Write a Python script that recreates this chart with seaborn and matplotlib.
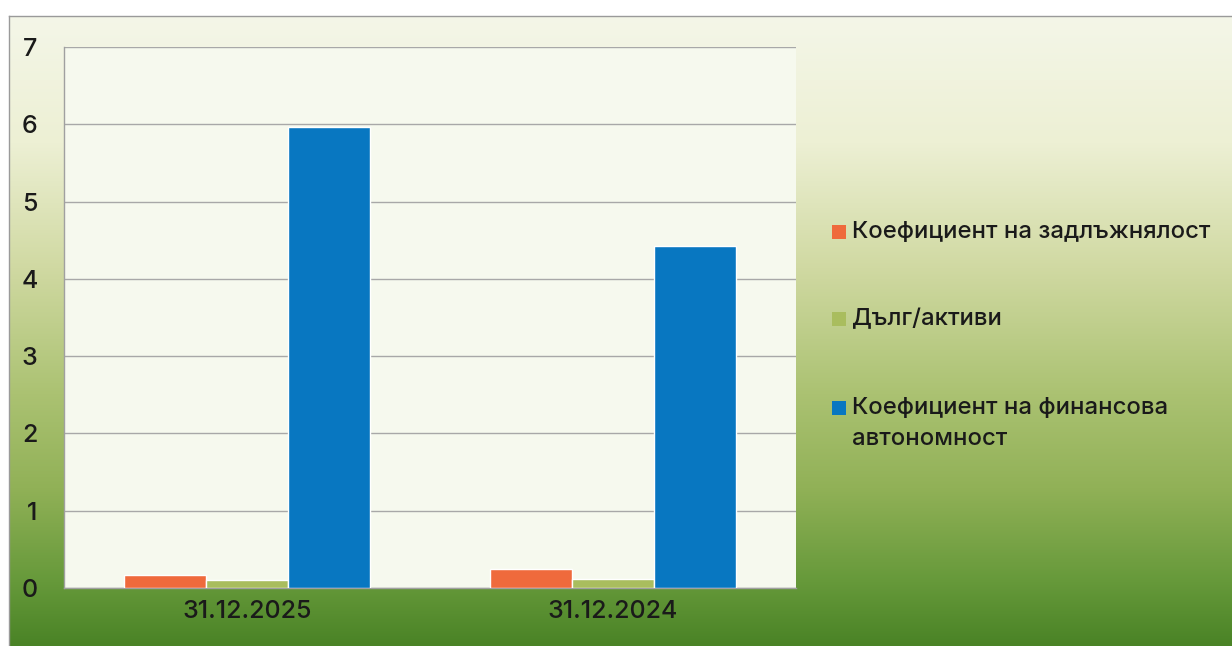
import numpy as np
import pandas as pd
import matplotlib
matplotlib.use("Agg")
import matplotlib.pyplot as plt
from matplotlib.colors import LinearSegmentedColormap
from matplotlib.patches import Rectangle
import seaborn as sns

# Reporting dates and the three financial ratios
dates = ["31.12.2025", "31.12.2024"]
debt_ratio = [0.17, 0.24]
debt_to_assets = [0.10, 0.12]
autonomy_ratio = [5.96, 4.43]

series_names = [
    "Коефициент на задлъжнялост",
    "Дълг/активи",
    "Коефициент на финансова\nавтономност",
]
series_colors = ["#ef6a3c", "#a9bd5e", "#0877c1"]
y_ticks = [0, 1, 2, 3, 4, 5, 6, 7]

df = pd.DataFrame({
    "date": dates * 3,
    "series": [series_names[0]] * 2 + [series_names[1]] * 2 + [series_names[2]] * 2,
    "value": debt_ratio + debt_to_assets + autonomy_ratio,
})

sns.set_theme(style="white")
plt.rcParams["font.family"] = ["Inter", "DejaVu Sans"]
plt.rcParams["font.weight"] = 500
TEXT_COLOR = "#1a1a1a"
FS_TICK = 18
FS_LEGEND = 17.2

W, H = 1232, 646
fig = plt.figure(figsize=(W / 100, H / 100), dpi=100, facecolor="white")

# Gradient backdrop of the chart frame (cream at the top, deep green at the bottom)
bg = fig.add_axes([9 / W, 0, 1 - 9 / W, 1 - 16 / H], zorder=0)
grad_cmap = LinearSegmentedColormap.from_list(
    "frame",
    [(0.0, "#f4f6e8"), (0.2, "#edf0d4"), (0.4, "#d0d9a2"), (0.6, "#abc272"),
     (0.75, "#91b157"), (0.9, "#66993a"), (1.0, "#4a8326")],
)
bg.imshow(np.linspace(0, 1, 256).reshape(-1, 1), aspect="auto", cmap=grad_cmap,
          extent=[0, 1, 0, 1], origin="upper")
bg.set_xticks([])
bg.set_yticks([])
for side in ["right", "bottom"]:
    bg.spines[side].set_visible(False)
for side in ["top", "left"]:
    bg.spines[side].set_color("#9a9a9a")
    bg.spines[side].set_linewidth(1.0)

ax = fig.add_axes([64 / W, 1 - 588 / H, (796 - 64) / W, (588 - 47) / H], zorder=1)
ax.set_facecolor("#f6f9ee")

sns.barplot(data=df, x="date", y="value", hue="series", order=dates,
            hue_order=series_names, palette=series_colors, width=0.67,
            gap=0, saturation=1, ax=ax, legend=False, zorder=3)

ax.set_ylim(0, 7)
ax.set_xlim(-0.5, 1.5)
ax.set_yticks(y_ticks)
ax.set_yticklabels([str(t) for t in y_ticks])
ax.yaxis.grid(True, color="#a8a8a8", linewidth=1.0, zorder=0)
ax.set_axisbelow(True)
ax.set_xlabel("")
ax.set_ylabel("")
ax.tick_params(axis="both", length=0, labelsize=FS_TICK, colors=TEXT_COLOR)
ax.tick_params(axis="y", pad=19)
ax.tick_params(axis="x", pad=9)
for side in ["top", "right"]:
    ax.spines[side].set_visible(False)
for side in ["left", "bottom"]:
    ax.spines[side].set_color("#a0a0a0")
    ax.spines[side].set_linewidth(1.0)

# Legend laid out to the right of the plotting area
legend_rows = [232, 319, 408]
for name, color, ypix in zip(series_names, series_colors, legend_rows):
    fig.patches.append(Rectangle((832 / W, 1 - (ypix + 7) / H), 14 / W, 14 / H,
                                 transform=fig.transFigure, facecolor=color,
                                 edgecolor="none", zorder=5))
    for k, line in enumerate(name.split("\n")):
        fig.text(852 / W, 1 - (ypix + 31 * k) / H, line, fontsize=FS_LEGEND,
                 color=TEXT_COLOR, va="center", ha="left", zorder=6)

fig.savefig("out.png", dpi=100, facecolor="white")
